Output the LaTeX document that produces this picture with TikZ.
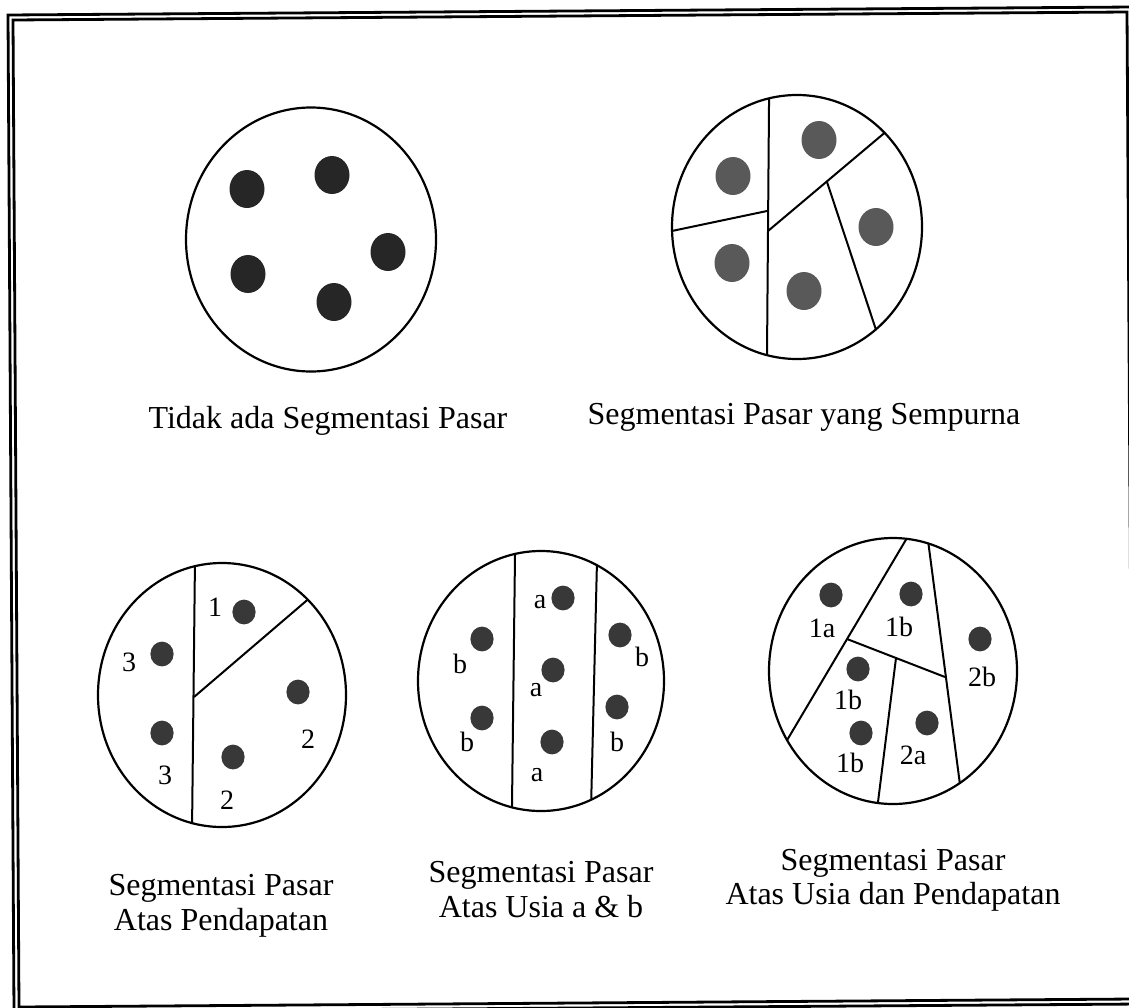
\documentclass[tikz,border=0pt]{standalone}
\usepackage{fontspec}
\setmainfont{Liberation Serif}
\begin{document}
\begin{tikzpicture}[x=0.5pt,y=-0.5pt,
  framel/.style={line width=1.4pt,black},
  ring/.style={line width=1.1pt,black},
  segline/.style={line width=1.0pt,black},
  dotdark/.style={fill=black!85},
  dotmid/.style={fill=black!65},
  dotlow/.style={fill=black!78},
  bigdot/.style={x radius=8.75pt,y radius=9.5pt},
  smalldot/.style={x radius=5.8pt,y radius=6.2pt},
  captext/.style={font=\fontsize{16}{16}\selectfont,inner sep=0pt,anchor=base},
  lbl/.style={font=\fontsize{14}{14}\selectfont,inner sep=0pt}]
\clip (0,0) rectangle (1129,1007);
\useasboundingbox (0,0) rectangle (1129,1007);
% frame
\draw[framel] (8,15) -- (1133,7) -- (1139,1004) -- (14,1012) -- cycle;
\draw[framel] (13,20) -- (1127,12) -- (1133,999) -- (19,1007) -- cycle;

% circle 1
\draw[ring] (311,239.5) ellipse [x radius=62.5pt,y radius=66pt];
\fill[dotdark] (247,189) ellipse [bigdot];
\fill[dotdark] (332,175) ellipse [bigdot];
\fill[dotdark] (388,252) ellipse [bigdot];
\fill[dotdark] (248,274) ellipse [bigdot];
\fill[dotdark] (334,302) ellipse [bigdot];
\node[captext] (c1) at (328,428) {Tidak ada Segmentasi Pasar};

% circle 2
\begin{scope}
\clip (797,227) ellipse [x radius=62.5pt,y radius=66pt];
\draw[segline] (769.2,80) -- (766.8,380);
\draw[segline] (767,211) -- (640,237.7);
\draw[segline] (768,231) -- (920,103);
\draw[segline] (827,182) -- (890,372);
\end{scope}
\draw[ring] (797,227) ellipse [x radius=62.5pt,y radius=66pt];
\fill[dotmid] (733,176) ellipse [bigdot];
\fill[dotmid] (819,140) ellipse [bigdot];
\fill[dotmid] (876,227) ellipse [bigdot];
\fill[dotmid] (732,263) ellipse [bigdot];
\fill[dotmid] (804,291) ellipse [bigdot];
\node[captext] (c2) at (804,424) {Segmentasi Pasar yang Sempurna};

% circle 3
\begin{scope}
\clip (222,695) ellipse [x radius=62pt,y radius=66pt];
\draw[segline] (195.2,540) -- (191.8,850);
\draw[segline] (194,697) -- (340,572);
\end{scope}
\draw[ring] (222,695) ellipse [x radius=62pt,y radius=66pt];
\fill[dotlow] (244,612) ellipse [smalldot];
\fill[dotlow] (162,654) ellipse [smalldot];
\fill[dotlow] (162,733) ellipse [smalldot];
\fill[dotlow] (298,692) ellipse [smalldot];
\fill[dotlow] (233,757) ellipse [smalldot];
\node[lbl] (l31) at (215,607) {1};
\node[lbl] (l32) at (129,662) {3};
\node[lbl] (l33) at (165,775) {3};
\node[lbl] (l34) at (308,739) {2};
\node[lbl] (l35) at (227,800) {2};
\node[captext] (c3a) at (221,895) {Segmentasi Pasar};
\node[captext] (c3b) at (221,930) {Atas Pendapatan};

% circle 4
\begin{scope}
\clip (541,681) ellipse [x radius=61.5pt,y radius=65pt];
\draw[segline] (515.3,530) -- (511.7,830);
\draw[segline] (597.5,540) -- (590.5,830);
\end{scope}
\draw[ring] (541,681) ellipse [x radius=61.5pt,y radius=65pt];
\fill[dotlow] (563,598) ellipse [smalldot];
\fill[dotlow] (482,639) ellipse [smalldot];
\fill[dotlow] (553,670) ellipse [smalldot];
\fill[dotlow] (482,718) ellipse [smalldot];
\fill[dotlow] (552,742) ellipse [smalldot];
\fill[dotlow] (620,635) ellipse [smalldot];
\fill[dotlow] (617,707) ellipse [smalldot];
\node[lbl] (l41) at (540,602) {a};
\node[lbl] (l42) at (460,664) {b};
\node[lbl] (l43) at (536,690) {a};
\node[lbl] (l44) at (467,742) {b};
\node[lbl] (l45) at (537,775) {a};
\node[lbl] (l46) at (642,657) {b};
\node[lbl] (l47) at (617,742) {b};
\node[captext] (c4a) at (541,882) {Segmentasi Pasar};
\node[captext] (c4b) at (541,917) {Atas Usia a \& b};

% circle 5
\begin{scope}
\clip (893,671) ellipse [x radius=62pt,y radius=66.5pt];
\draw[segline] (920,516) -- (775,760.5);
\draw[segline] (847,639) -- (945,677);
\draw[segline] (926,525) -- (962,800);
\draw[segline] (896,658) -- (875,826);
\end{scope}
\draw[ring] (893,671) ellipse [x radius=62pt,y radius=66.5pt];
\fill[dotlow] (831,595) ellipse [smalldot];
\fill[dotlow] (911,594) ellipse [smalldot];
\fill[dotlow] (980,639) ellipse [smalldot];
\fill[dotlow] (858,669) ellipse [smalldot];
\fill[dotlow] (861,733) ellipse [smalldot];
\fill[dotlow] (927,723) ellipse [smalldot];
\node[lbl] (l51) at (822,628) {1a};
\node[lbl] (l52) at (899,627) {1b};
\node[lbl] (l53) at (982,677) {2b};
\node[lbl] (l54) at (848,700) {1b};
\node[lbl] (l55) at (850,763) {1b};
\node[lbl] (l56) at (913,755) {2a};
\node[captext] (c5a) at (893,870) {Segmentasi Pasar};
\node[captext] (c5b) at (893,904) {Atas Usia dan Pendapatan};
\end{tikzpicture}
\end{document}
